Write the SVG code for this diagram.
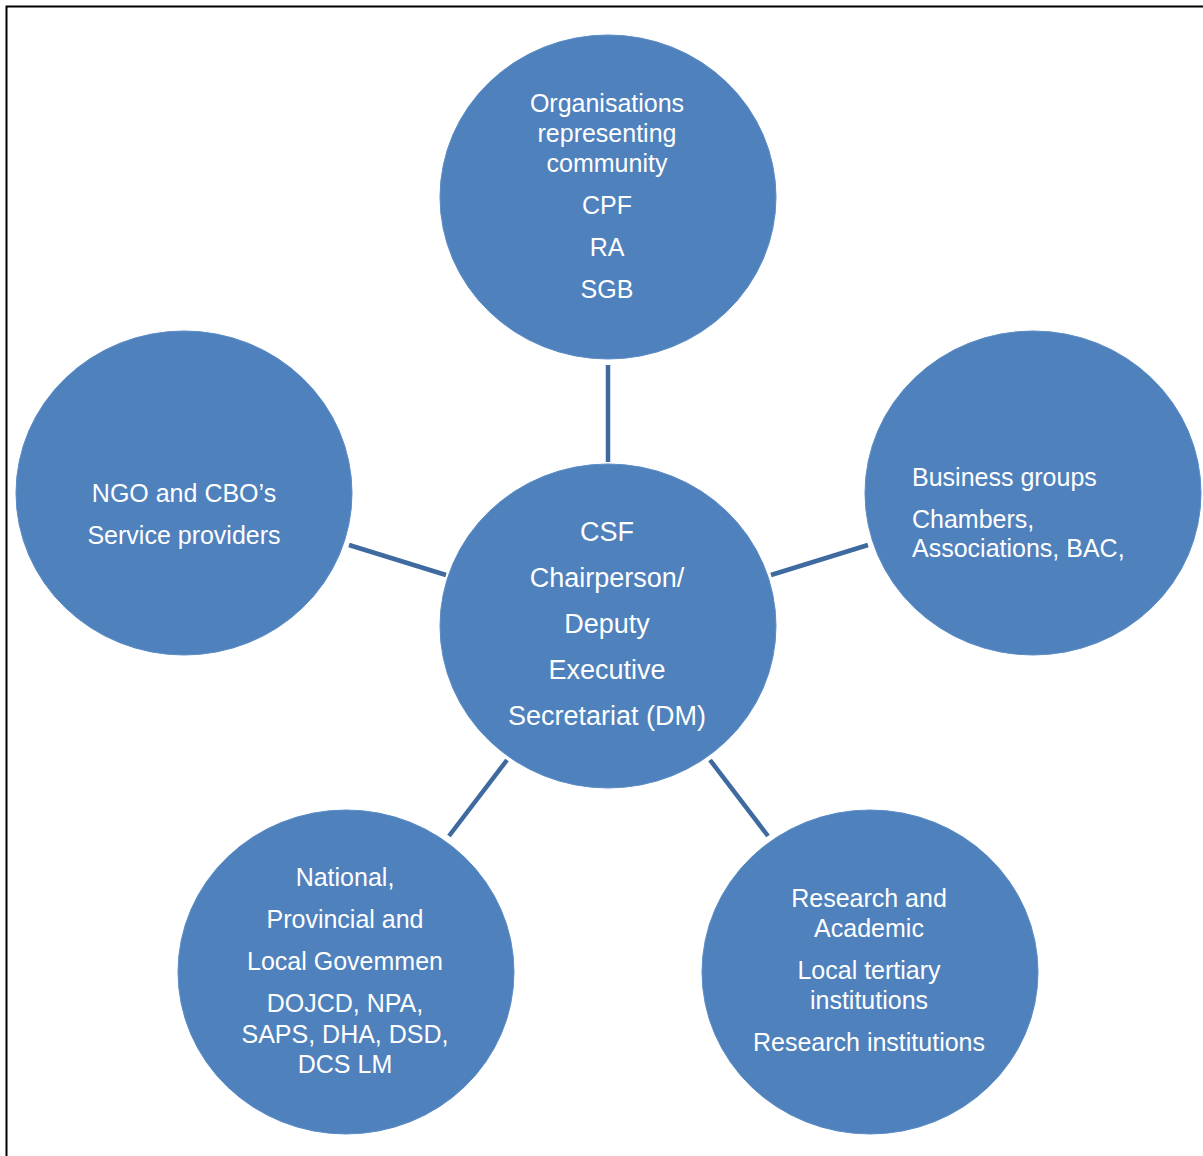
<svg xmlns="http://www.w3.org/2000/svg" width="1203" height="1156" viewBox="0 0 1203 1156">
<style>
.node{fill:#4F81BD;stroke:#5B8CC6;stroke-width:1}
.t{font-family:"Liberation Sans",Arial,sans-serif;font-size:25px;fill:#FFFFFF;text-anchor:middle}
.tl{text-anchor:start}
.big{font-size:27px}
.conn{stroke:#3E6AA0;stroke-width:4.5;fill:none}
</style>
<rect width="1203" height="1156" fill="#FFFFFF"/>
<path d="M6.5,1156 V6.5 H1203" fill="none" stroke="#000000" stroke-width="2"/>
<g id="connectors">
<line class="conn" x1="608" y1="365" x2="608" y2="462"/>
<line class="conn" x1="349" y1="545" x2="446" y2="575"/>
<line class="conn" x1="771" y1="575" x2="868" y2="545"/>
<line class="conn" x1="449" y1="836" x2="507" y2="760"/>
<line class="conn" x1="710" y1="760" x2="768" y2="836"/>
</g>
<g id="node-top">
<ellipse class="node" cx="608" cy="197" rx="168" ry="162"/>
<text class="t" x="607" y="112">Organisations</text>
<text class="t" x="607" y="142">representing</text>
<text class="t" x="607" y="172">community</text>
<text class="t" x="607" y="214">CPF</text>
<text class="t" x="607" y="256">RA</text>
<text class="t" x="607" y="298">SGB</text>
</g>
<g id="node-center">
<ellipse class="node" cx="608" cy="626" rx="168" ry="162"/>
<text class="t big" x="607" y="541">CSF</text>
<text class="t big" x="607" y="587">Chairperson/</text>
<text class="t big" x="607" y="633">Deputy</text>
<text class="t big" x="607" y="679">Executive</text>
<text class="t big" x="607" y="725">Secretariat (DM)</text>
</g>
<g id="node-left">
<ellipse class="node" cx="184" cy="493" rx="168" ry="162"/>
<text class="t" x="184" y="502">NGO and CBO’s</text>
<text class="t" x="184" y="544">Service providers</text>
</g>
<g id="node-right">
<ellipse class="node" cx="1033" cy="493" rx="168" ry="162"/>
<text class="t tl" x="912" y="486">Business groups</text>
<text class="t tl" x="912" y="528">Chambers,</text>
<text class="t tl" x="912" y="557">Associations, BAC,</text>
</g>
<g id="node-bottom-left">
<ellipse class="node" cx="346" cy="972" rx="168" ry="162"/>
<text class="t" x="345" y="886">National,</text>
<text class="t" x="345" y="928">Provincial and</text>
<text class="t" x="345" y="970">Local Govemmen</text>
<text class="t" x="345" y="1012">DOJCD, NPA,</text>
<text class="t" x="345" y="1043">SAPS, DHA, DSD,</text>
<text class="t" x="345" y="1073">DCS LM</text>
</g>
<g id="node-bottom-right">
<ellipse class="node" cx="870" cy="972" rx="168" ry="162"/>
<text class="t" x="869" y="907">Research and</text>
<text class="t" x="869" y="937">Academic</text>
<text class="t" x="869" y="979">Local tertiary</text>
<text class="t" x="869" y="1009">institutions</text>
<text class="t" x="869" y="1051">Research institutions</text>
</g>
</svg>
